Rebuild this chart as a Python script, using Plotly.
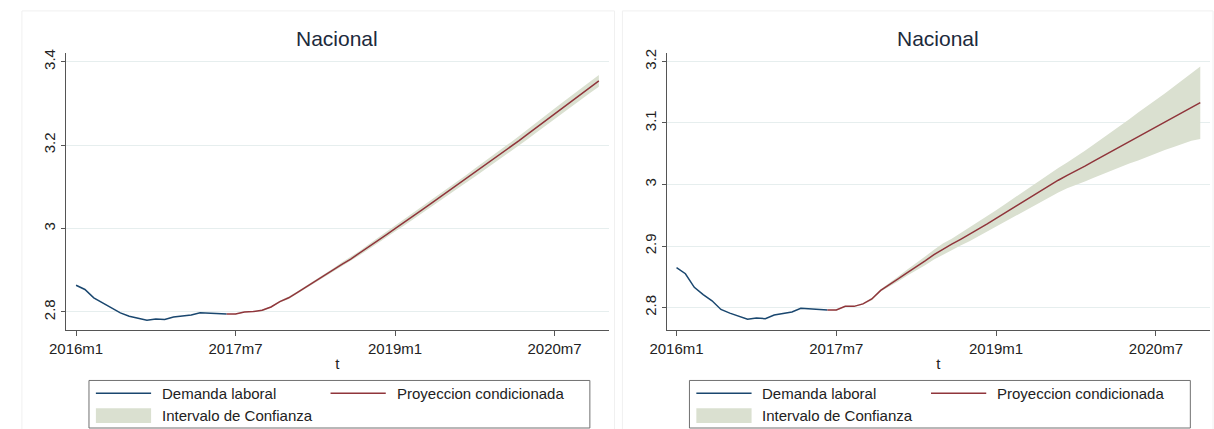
import plotly.graph_objects as go

W, H = 1214, 429

# ---------------- data ----------------
month_labels = ["2016m1", "2017m7", "2019m1", "2020m7"]
month_ticks = [0, 18, 36, 54]
n_months = 60
hist_end = 17  # 2017m6

blue_left = [2.864, 2.854, 2.834, 2.822, 2.812, 2.798, 2.790, 2.785, 2.780, 2.783,
             2.782, 2.788, 2.791, 2.793, 2.798, 2.797, 2.797, 2.795]
red_left = [2.795, 2.795, 2.800, 2.801, 2.804, 2.812, 2.825, 2.834, 2.847, 2.860,
            2.873, 2.887, 2.900, 2.914, 2.927, 2.941, 2.956, 2.971, 2.985, 3.000,
            3.014, 3.029, 3.044, 3.059, 3.074, 3.089, 3.104, 3.119, 3.134, 3.149,
            3.164, 3.179, 3.195, 3.211, 3.227, 3.243, 3.259, 3.275, 3.291, 3.307,
            3.323, 3.339, 3.354]
upper_left = [2.795, 2.796, 2.801, 2.802, 2.806, 2.814, 2.827, 2.837, 2.850, 2.863,
              2.877, 2.891, 2.904, 2.919, 2.932, 2.946, 2.962, 2.977, 2.991, 3.007,
              3.021, 3.036, 3.052, 3.067, 3.082, 3.098, 3.113, 3.128, 3.144, 3.159,
              3.174, 3.190, 3.206, 3.222, 3.239, 3.255, 3.271, 3.288, 3.304, 3.320,
              3.337, 3.353, 3.368]
lower_left = [2.795, 2.794, 2.799, 2.800, 2.802, 2.810, 2.823, 2.831, 2.844, 2.857,
              2.869, 2.883, 2.896, 2.909, 2.922, 2.936, 2.950, 2.965, 2.979, 2.993,
              3.007, 3.022, 3.036, 3.051, 3.066, 3.080, 3.095, 3.110, 3.124, 3.139,
              3.154, 3.168, 3.184, 3.200, 3.215, 3.231, 3.247, 3.262, 3.278, 3.294,
              3.309, 3.325, 3.340]

blue_right = [2.865, 2.855, 2.833, 2.821, 2.811, 2.797, 2.791, 2.786, 2.781, 2.783,
              2.782, 2.788, 2.791, 2.793, 2.799, 2.798, 2.798, 2.796]
red_right = [2.796, 2.796, 2.802, 2.802, 2.806, 2.814, 2.828, 2.837, 2.847, 2.857,
             2.866, 2.876, 2.886, 2.895, 2.903, 2.911, 2.919, 2.928, 2.936, 2.945,
             2.954, 2.963, 2.972, 2.981, 2.990, 2.999, 3.007, 3.015, 3.022, 3.030,
             3.038, 3.046, 3.054, 3.062, 3.070, 3.078, 3.086, 3.094, 3.102, 3.110,
             3.118, 3.126, 3.133]
upper_right = [2.796, 2.797, 2.803, 2.803, 2.807, 2.816, 2.830, 2.840, 2.851, 2.862,
               2.872, 2.883, 2.894, 2.904, 2.912, 2.921, 2.930, 2.940, 2.948, 2.958,
               2.968, 2.978, 2.988, 2.998, 3.008, 3.018, 3.027, 3.036, 3.045, 3.055,
               3.065, 3.075, 3.085, 3.096, 3.106, 3.117, 3.127, 3.138, 3.148, 3.159,
               3.170, 3.181, 3.192]
lower_right = [2.796, 2.795, 2.801, 2.801, 2.805, 2.812, 2.826, 2.834, 2.843, 2.852,
               2.860, 2.869, 2.878, 2.886, 2.894, 2.901, 2.908, 2.916, 2.924, 2.932,
               2.940, 2.948, 2.956, 2.964, 2.972, 2.980, 2.987, 2.994, 2.999, 3.005,
               3.011, 3.017, 3.023, 3.028, 3.034, 3.039, 3.045, 3.050, 3.056, 3.061,
               3.066, 3.071, 3.074]

yticks_left = [2.8, 3.0, 3.2, 3.4]
yticklabels_left = ["2.8", "3", "3.2", "3.4"]
yticks_right = [2.8, 2.9, 3.0, 3.1, 3.2]
yticklabels_right = ["2.8", "2.9", "3", "3.1", "3.2"]

title_text = "Nacional"
xaxis_title = "t"
legend_labels = ["Demanda laboral", "Proyeccion condicionada", "Intervalo de Confianza"]

# ---------------- style ----------------
FONT = "Arial, Liberation Sans, sans-serif"
BLUE = "#1a476f"
RED = "#90353b"
BAND = "#dae0d0"
GRID = "#e6eeee"
AXIS = "#555555"
TITLE_COLOR = "#1c2a3c"

t_hist = list(range(0, hist_end + 1))
t_proj = list(range(hist_end, n_months))

fig = go.Figure()

panels = [
    dict(xa="x", ya="y", blue=blue_left, red=red_left, up=upper_left, lo=lower_left),
    dict(xa="x2", ya="y2", blue=blue_right, red=red_right, up=upper_right, lo=lower_right),
]
for p in panels:
    fig.add_trace(go.Scatter(x=t_proj, y=p["lo"], xaxis=p["xa"], yaxis=p["ya"], mode="lines",
                             line=dict(width=0, color=BAND), showlegend=False, hoverinfo="skip"))
    fig.add_trace(go.Scatter(x=t_proj, y=p["up"], xaxis=p["xa"], yaxis=p["ya"], mode="lines",
                             line=dict(width=0, color=BAND), fill="tonexty", fillcolor=BAND,
                             showlegend=False, hoverinfo="skip"))
    fig.add_trace(go.Scatter(x=t_hist, y=p["blue"], xaxis=p["xa"], yaxis=p["ya"], mode="lines",
                             line=dict(width=1.5, color=BLUE), showlegend=False))
    fig.add_trace(go.Scatter(x=t_proj, y=p["red"], xaxis=p["xa"], yaxis=p["ya"], mode="lines",
                             line=dict(width=1.5, color=RED), showlegend=False))

def px(x):
    return x / W

def py(y):
    return 1 - y / H

plot_top, plot_bot = 49, 329
left_box = (50, 600)
right_box = (659, 1210)

common_x = dict(range=[-1.1, 60.1], tickmode="array", tickvals=month_ticks, ticktext=month_labels,
                showgrid=False, zeroline=False, showline=True, linecolor=AXIS, linewidth=1,
                ticks="outside", ticklen=5, tickcolor=AXIS, tickwidth=1,
                tickfont=dict(family=FONT, size=15, color="#222222"),
                title=dict(text=xaxis_title, font=dict(family=FONT, size=15, color="#222222"), standoff=2))
common_y = dict(tickmode="array", showgrid=True, gridcolor=GRID, gridwidth=1, zeroline=False,
                showline=True, linecolor=AXIS, linewidth=1, ticks="outside", ticklen=4,
                tickcolor=AXIS, tickwidth=1, tickangle=-90,
                tickfont=dict(family=FONT, size=15, color="#222222"))

fig.update_layout(
    width=W, height=H, margin=dict(l=0, r=0, t=0, b=0),
    paper_bgcolor="white", plot_bgcolor="white", showlegend=False,
    xaxis=dict(domain=[px(left_box[0]), px(left_box[1])], anchor="y", **common_x),
    yaxis=dict(domain=[py(plot_bot), py(plot_top)], anchor="x", range=[2.757, 3.422],
               tickvals=yticks_left, ticktext=yticklabels_left, **common_y),
    xaxis2=dict(domain=[px(right_box[0]), px(right_box[1])], anchor="y2", **common_x),
    yaxis2=dict(domain=[py(plot_bot), py(plot_top)], anchor="x2", range=[2.7637, 3.2145],
                tickvals=yticks_right, ticktext=yticklabels_right, **common_y),
)

shapes = []
annotations = []
for (x0, x1), frame in zip([left_box, right_box], [(5, 606), (614, 1213)]):
    # faint outer graph frame
    shapes.append(dict(type="rect", xref="paper", yref="paper", x0=px(frame[0]), x1=px(frame[1]),
                       y0=py(430), y1=py(7), line=dict(color="#f0f0f0", width=1), layer="below"))
    # title
    annotations.append(dict(text=title_text, xref="paper", yref="paper", x=px((x0 + x1) / 2), y=py(35),
                            xanchor="center", yanchor="middle", showarrow=False,
                            font=dict(family=FONT, size=21, color=TITLE_COLOR)))
    # legend box
    bl = x0 + 23
    br = bl + 508
    shapes.append(dict(type="rect", xref="paper", yref="paper", x0=px(bl), x1=px(br),
                       y0=py(428), y1=py(380), line=dict(color="#707070", width=1)))
    r1, r2 = 393, 415
    shapes.append(dict(type="line", xref="paper", yref="paper", x0=px(bl + 7), x1=px(bl + 63),
                       y0=py(r1), y1=py(r1), line=dict(color=BLUE, width=1.5)))
    shapes.append(dict(type="line", xref="paper", yref="paper", x0=px(bl + 245), x1=px(bl + 301),
                       y0=py(r1), y1=py(r1), line=dict(color=RED, width=1.5)))
    shapes.append(dict(type="rect", xref="paper", yref="paper", x0=px(bl + 7), x1=px(bl + 63),
                       y0=py(r2 + 8), y1=py(r2 - 7), line=dict(width=0), fillcolor=BAND))
    for txt, lx, ly in [(legend_labels[0], bl + 72, r1), (legend_labels[1], bl + 310, r1),
                        (legend_labels[2], bl + 72, r2)]:
        annotations.append(dict(text=txt, xref="paper", yref="paper", x=px(lx), y=py(ly),
                                xanchor="left", yanchor="middle", showarrow=False,
                                font=dict(family=FONT, size=15, color="#222222")))

fig.update_layout(shapes=shapes, annotations=annotations)
fig.write_html(
    "out.html",
    config={"displayModeBar": False},
    post_script="document.body.style.margin='0px';document.body.style.padding='0px';"
                "document.documentElement.style.overflow='hidden';",
)
